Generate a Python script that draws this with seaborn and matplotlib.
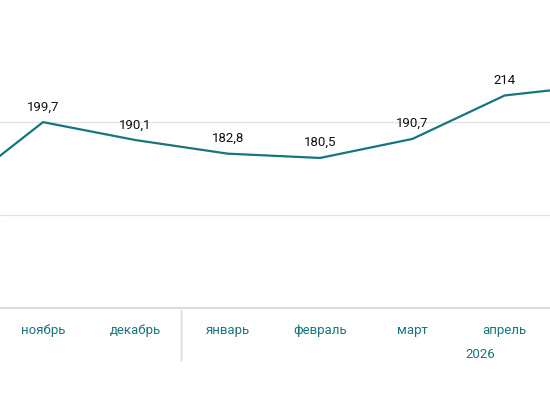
import matplotlib
matplotlib.use("Agg")
import matplotlib.pyplot as plt
import seaborn as sns
import pandas as pd

months = ["октябрь", "ноябрь", "декабрь", "январь", "февраль", "март", "апрель", "май"]
values = [161, 199.7, 190.1, 182.8, 180.5, 190.7, 214, 219.5]
labels = ["161", "199,7", "190,1", "182,8", "180,5", "190,7", "214", "219,5"]
year_label = "2026"

teal = "#18757e"
df = pd.DataFrame({"pos": range(len(months)), "month": months, "value": values})

sns.set_theme(style="white")
plt.rcParams["font.family"] = ["Roboto", "DejaVu Sans"]

fig = plt.figure(figsize=(5.5, 4.1), dpi=100)
ax = fig.add_axes([0, 0.246, 1, 0.754])

sns.lineplot(data=df, x="pos", y="value", ax=ax, color=teal, linewidth=1.6)

for p, v, t in zip(df["pos"], values, labels):
    ax.annotate(t, (p, v), xytext=(0, 7), textcoords="offset points",
                ha="center", va="bottom", fontsize=9.5, color="#111111",
                annotation_clip=True)

for g in [150, 200]:
    ax.axhline(g, color="#e2e2e2", linewidth=0.9, zorder=0)

for s in ["top", "right", "left"]:
    ax.spines[s].set_visible(False)
ax.spines["bottom"].set_color("#dddddd")
ax.spines["bottom"].set_linewidth(1.6)

ax.set_yticks([])
ax.set_xticks(df["pos"])
ax.set_xticklabels(months, color=teal, fontsize=9.5)
ax.tick_params(axis="x", length=0, pad=11)
ax.set_xlabel("")
ax.set_ylabel("")

# visible window of the chart
ax.set_xlim(0.534, 6.49)
ax.set_ylim(100, 265.7)

# year separator and year label
ax.annotate("", xy=(2.5, 0), xycoords=("data", "axes fraction"),
            xytext=(0, -40), textcoords="offset points",
            arrowprops=dict(arrowstyle="-", color="#dddddd", lw=1.3))
ax.annotate(year_label, xy=(5.73, 0), xycoords=("data", "axes fraction"),
            xytext=(0, -28), textcoords="offset points",
            ha="center", va="top", color=teal, fontsize=9.5)

fig.savefig("out.png", dpi=100)
